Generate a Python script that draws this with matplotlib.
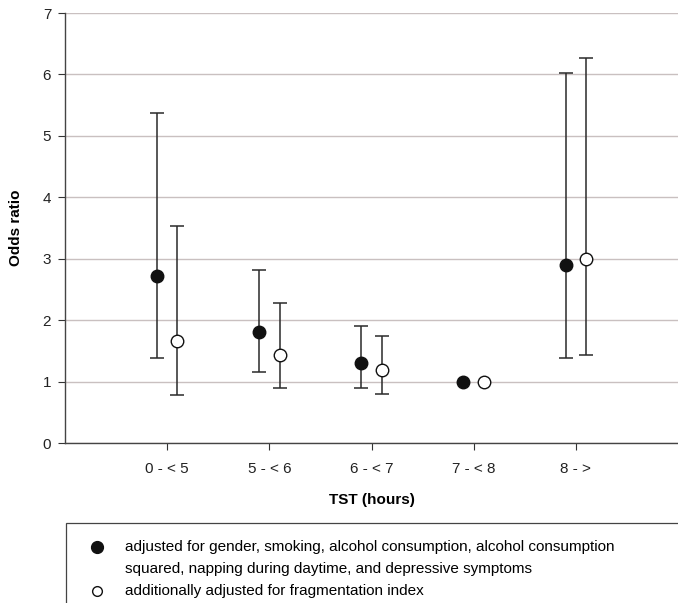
import matplotlib.pyplot as plt
import numpy as np
from matplotlib.patches import Rectangle
from matplotlib.lines import Line2D

plt.rcParams['font.family'] = ['Liberation Sans', 'DejaVu Sans']

# data
groups = ['0 - < 5', '5 - < 6', '6 - < 7', '7 - < 8', '8 - >']
or_adj = [2.72, 1.81, 1.30, 1.00, 2.89]
lo_adj = [1.38, 1.16, 0.89, 1.00, 1.38]
hi_adj = [5.37, 2.82, 1.91, 1.00, 6.03]
or_frag = [1.66, 1.43, 1.19, 1.00, 2.99]
lo_frag = [0.78, 0.90, 0.80, 1.00, 1.43]
hi_frag = [3.54, 2.28, 1.75, 1.00, 6.26]
label_adj1 = 'adjusted for gender, smoking, alcohol consumption, alcohol consumption'
label_adj2 = 'squared, napping during daytime, and depressive symptoms'
label_frag = 'additionally adjusted for fragmentation index'

fig = plt.figure(figsize=(6.78, 6.03), dpi=100)
ax = fig.add_axes([0.0959, 0.2653, 0.9041, 0.7131])

x = np.arange(1, len(groups) + 1)
off = 0.1
ecol = '#2a2a2a'

# error bars (only where the interval is non-zero)
for xs, val, lo, hi in [(x - off, or_adj, lo_adj, hi_adj), (x + off, or_frag, lo_frag, hi_frag)]:
    val = np.array(val); lo = np.array(lo); hi = np.array(hi)
    m = (hi - lo) > 0
    ax.errorbar(xs[m], val[m], yerr=[val[m] - lo[m], hi[m] - val[m]], fmt='none',
                ecolor=ecol, elinewidth=1.1, capsize=5, capthick=1.1, zorder=3)

ax.plot(x - off, or_adj, 'o', ms=9, mfc='#111111', mec='#111111', zorder=4)
ax.plot(x + off, or_frag, 'o', ms=9, mfc='white', mec='#111111', mew=1, zorder=4)

ax.set_xlim(0, 6)
ax.set_ylim(0, 7)
ax.set_yticks(range(0, 8))
ax.set_xticks(x)
ax.set_xticklabels(groups, fontsize=11)
ax.tick_params(axis='y', labelsize=11, length=5, width=0.8, color='#333333', pad=5,
               labelcolor='#222222')
ax.tick_params(axis='x', length=5, width=0.8, color='#333333', pad=9, labelcolor='#222222')
for s in ['top', 'right']:
    ax.spines[s].set_visible(False)
for s in ['left', 'bottom']:
    ax.spines[s].set_color('#444444')
    ax.spines[s].set_linewidth(1.0)
ax.yaxis.grid(True, color='#c9c0c0', linewidth=1)
ax.set_axisbelow(True)

ax.set_ylabel('Odds ratio', fontsize=11, fontweight='bold', labelpad=14)
ax.set_xlabel('TST (hours)', fontsize=11, fontweight='bold', labelpad=12)

# legend box (runs off the bottom and right edge like the reference)
W, H = 678.0, 603.0
fig.patches.append(Rectangle((66 / W, -0.05), 1, (603 - 523) / H + 0.05,
                             transform=fig.transFigure,
                             fill=False, edgecolor='#444444', linewidth=0.9))
fig.lines.append(Line2D([97 / W], [1 - 547 / H], transform=fig.transFigure, marker='o',
                        ms=8.5, mfc='#111111', mec='#111111', ls='none'))
fig.lines.append(Line2D([97 / W], [1 - 591 / H], transform=fig.transFigure, marker='o',
                        ms=7, mfc='white', mec='#111111', mew=1, ls='none'))
fig.text(125 / W, 1 - 547 / H, label_adj1, fontsize=11, va='center', ha='left')
fig.text(125 / W, 1 - 569 / H, label_adj2, fontsize=11, va='center', ha='left')
fig.text(125 / W, 1 - 591 / H, label_frag, fontsize=11, va='center', ha='left')

fig.savefig('out.png', dpi=100)
